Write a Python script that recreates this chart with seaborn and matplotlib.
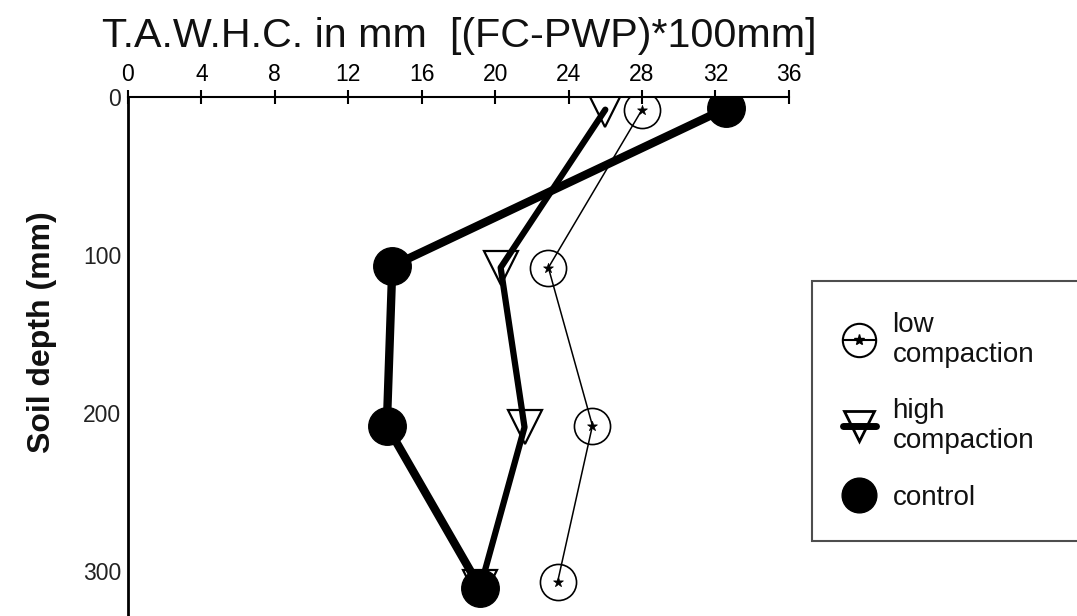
import numpy as np
import pandas as pd
import matplotlib
matplotlib.use('Agg')
import matplotlib.pyplot as plt
from matplotlib.lines import Line2D
from matplotlib.legend_handler import HandlerTuple
import seaborn as sns

# values (x = T.A.W.H.C. in mm, y = soil depth in mm)
low_tawhc = [28.0, 22.9, 25.3, 23.4]
low_depth = [8, 108, 208, 307]
high_tawhc = [26.0, 20.3, 21.6, 19.2]
high_depth = [8, 108, 209, 310]
control_tawhc = [32.6, 14.4, 14.1, 19.2]
control_depth = [7, 107, 208, 311]

x_ticks = list(range(0, 37, 4))
y_ticks = [0, 100, 200, 300]

sns.set_style('white')
plt.rcParams['font.family'] = ['Liberation Sans', 'DejaVu Sans']

fig = plt.figure(figsize=(10.77, 6.16), dpi=100)
ax = fig.add_axes([0.1188, 0.0, 0.6137, 0.8425])

# low compaction: thin line, open circles with a small star inside
sns.lineplot(x=low_tawhc, y=low_depth, sort=False, estimator=None, ax=ax,
             color='k', linewidth=1.1, marker='o', markersize=26,
             markerfacecolor='none', markeredgecolor='k', markeredgewidth=1.2,
             zorder=3)
sns.scatterplot(x=low_tawhc, y=low_depth, ax=ax, marker='*', s=55,
                color='k', edgecolor='k', linewidth=0.5, zorder=4)

# high compaction: thick line, open down-triangles
sns.lineplot(x=high_tawhc, y=high_depth, sort=False, estimator=None, ax=ax,
             color='k', linewidth=4.5, marker='v', markersize=24,
             markerfacecolor='none', markeredgecolor='k', markeredgewidth=1.6,
             zorder=5)

# control: thickest line, filled circles
sns.lineplot(x=control_tawhc, y=control_depth, sort=False, estimator=None, ax=ax,
             color='k', linewidth=6, marker='o', markersize=27,
             markerfacecolor='k', markeredgecolor='k', markeredgewidth=1,
             zorder=6)

ax.set_xlim(0, 36)
ax.set_ylim(328.5, 0)
ax.xaxis.tick_top()
ax.set_xticks(x_ticks)
ax.set_yticks(y_ticks)
ax.set_xlabel('')
ax.set_ylabel('')
for side in ['right', 'bottom']:
    ax.spines[side].set_visible(False)
ax.spines['top'].set_linewidth(1.5)
ax.spines['left'].set_linewidth(2)
for side in ['top', 'left']:
    ax.spines[side].set_color('k')
ax.tick_params(axis='x', direction='inout', length=10, width=1.5, pad=3,
               labelsize=16.5, colors='k', top=True, bottom=False)
ax.tick_params(axis='y', direction='inout', length=10, width=1.5, pad=0,
               labelsize=16.5, colors='k', labelcolor='#222222')
ax.set_facecolor('none')

fig.text(102 / 1077, 0.924, 'T.A.W.H.C. in mm  [(FC-PWP)*100mm]',
         fontsize=29.7, ha='left', va='baseline', color='#111111')
fig.text(0.039, 0.461, 'Soil depth (mm)', fontsize=23, fontweight='bold',
         rotation=90, ha='center', va='center', color='#111111')

h_low = (Line2D([], [], color='k', lw=1.5),
         Line2D([], [], ls='none', marker='o', ms=24, mfc='none', mec='k', mew=1.5),
         Line2D([], [], ls='none', marker='*', ms=8, color='k'))
h_high = (Line2D([], [], color='k', lw=5),
          Line2D([], [], ls='none', marker='v', ms=21, mfc='none', mec='k', mew=2))
h_ctrl = Line2D([], [], ls='none', marker='o', ms=25, color='k')

leg = ax.legend([h_low, h_high, h_ctrl],
                ['low\ncompaction', 'high\ncompaction', 'control'],
                handler_map={tuple: HandlerTuple(ndivide=1)},
                loc='upper left',
                bbox_to_anchor=(812 / 1077, 0.08, 0.3, 1 - 281 / 616 - 0.08),
                bbox_transform=fig.transFigure, mode='expand', borderaxespad=0,
                fontsize=20, frameon=True, fancybox=False, shadow=False,
                handlelength=1.2, handletextpad=0.6, borderpad=1.1,
                labelspacing=1.1)
leg.get_frame().set_edgecolor('#222222')
leg.get_frame().set_linewidth(1.5)
for t in leg.get_texts():
    t.set_linespacing(1.2)
    t.set_color('#111111')

fig.savefig('out.png', dpi=100)
